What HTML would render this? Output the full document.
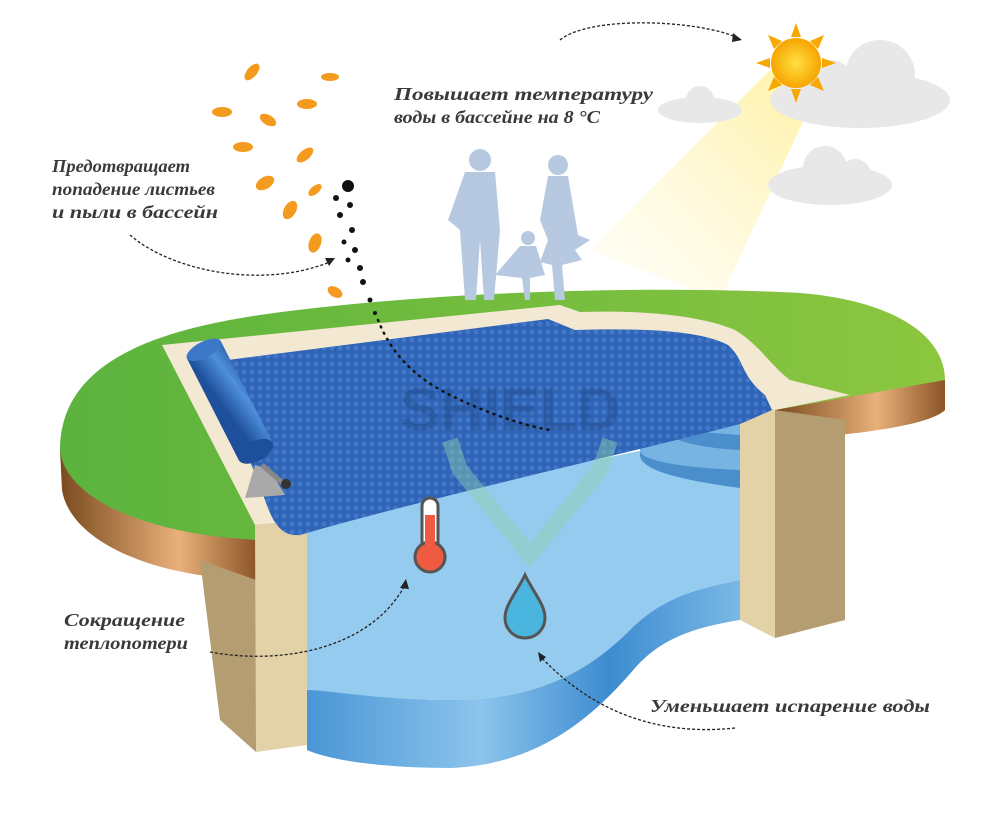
<!DOCTYPE html>
<html><head><meta charset="utf-8"><style>
html,body{margin:0;padding:0;background:#fff;width:1000px;height:823px;overflow:hidden}
svg{display:block}
.t{font-family:"Liberation Serif",serif;font-style:italic;font-weight:bold;fill:#3a3a3a;font-size:18px}
</style></head><body>
<svg width="1000" height="823" viewBox="0 0 1000 823" xmlns="http://www.w3.org/2000/svg">
<defs>
<pattern id="dots" width="8" height="8" patternUnits="userSpaceOnUse"><circle cx="4" cy="4" r="2.6" fill="#4a7fd0"/></pattern>
<linearGradient id="band" x1="0" x2="1"><stop offset="0" stop-color="#4a96d6"/><stop offset="0.4" stop-color="#8cc4ec"/><stop offset="0.7" stop-color="#3d8cd0"/><stop offset="1" stop-color="#7ab8e6"/></linearGradient>
<linearGradient id="soil" x1="0" x2="1"><stop offset="0" stop-color="#7a4a1e"/><stop offset="0.6" stop-color="#e9b07a"/><stop offset="1" stop-color="#8a5426"/></linearGradient>
<linearGradient id="roll" x1="0" x2="1" y1="0" y2="-0.5"><stop offset="0" stop-color="#1d4f9a"/><stop offset="0.5" stop-color="#4f8fdc"/><stop offset="1" stop-color="#1d4f9a"/></linearGradient>
<linearGradient id="beam" x1="1" y1="0" x2="0" y2="1"><stop offset="0" stop-color="#fff1a0"/><stop offset="1" stop-color="#fffbe6" stop-opacity="0.3"/></linearGradient>
<radialGradient id="sun"><stop offset="0" stop-color="#ffe040"/><stop offset="1" stop-color="#f7a400"/></radialGradient>
<linearGradient id="grass" x1="0" x2="1"><stop offset="0" stop-color="#5bb33e"/><stop offset="1" stop-color="#8cc63f"/></linearGradient>
</defs>
<polygon points="770,70 820,85 720,300 590,250" fill="url(#beam)"/>
<g fill="#e8e8e8">
<ellipse cx="860" cy="100" rx="90" ry="28"/><circle cx="880" cy="75" r="35"/><circle cx="830" cy="85" r="25"/>
<ellipse cx="700" cy="110" rx="42" ry="13"/><circle cx="700" cy="100" r="14"/>
<ellipse cx="830" cy="185" rx="62" ry="20"/><circle cx="825" cy="168" r="22"/><circle cx="855" cy="175" r="16"/>
</g>
<g transform="translate(796,63)">
<g fill="#f7a800">
<polygon points="0,-40 5,-26 -5,-26"/><polygon points="0,40 5,26 -5,26"/><polygon points="-40,0 -26,5 -26,-5"/><polygon points="40,0 26,5 26,-5"/>
<polygon points="28,-28 22,-14 14,-22" /><polygon points="-28,28 -22,14 -14,22"/><polygon points="-28,-28 -14,-22 -22,-14"/><polygon points="28,28 14,22 22,14"/>
</g>
<circle r="25" fill="url(#sun)"/></g>
<path d="M60,450 C60,360 160,330 260,315 C400,295 600,285 780,292 C880,295 945,330 945,380 L945,395 L780,410 L260,540 C160,540 60,520 60,450Z" fill="url(#grass)"/>
<path d="M775,410 L945,380 L945,410 C930,425 860,435 775,440Z" fill="url(#soil)"/>
<path d="M60,450 C65,500 150,535 258,540 L258,580 C150,578 70,540 62,490Z" fill="url(#soil)"/>
<polygon points="200,560 256,580 256,752 220,720" fill="#b59d72"/>
<polygon points="255,525 307,520 307,745 256,752" fill="#e3d1a8"/>
<polygon points="775,410 845,420 845,620 775,638" fill="#b59d72"/>
<polygon points="740,398 775,405 775,638 740,620" fill="#e3d1a8"/>
<path d="M307,520 L740,430 L740,580 C690,590 660,600 630,630 C590,670 540,700 450,700 C380,700 330,690 307,690Z" fill="#95cbef"/>
<path d="M307,690 C330,690 380,700 450,700 C540,700 590,670 630,630 C660,600 690,590 740,580 L740,620 C690,628 660,640 635,668 C595,715 540,765 450,768 C380,768 330,760 307,750Z" fill="url(#band)"/>
<path d="M640,455 C640,430 680,415 740,412 L740,488 C680,480 640,470 640,455Z" fill="#4a8fcc"/>
<path d="M640,450 C640,430 680,418 740,415 L740,470 C690,468 640,462 640,450Z" fill="#78b4e2"/>
<path d="M662,425 C662,410 700,400 740,398 L740,450 C700,448 662,440 662,425Z" fill="#4a8fcc"/>
<path d="M662,420 C662,408 700,400 740,398 L740,435 C700,432 662,430 662,420Z" fill="#78b4e2"/>
<path d="M162,345 L560,305 L580,312 C640,310 700,315 735,330 C760,345 770,365 790,380 L850,395 L775,410 L740,398 L300,500 L307,520 L255,525Z" fill="#f3e8d2"/>
<path d="M212,362 L548,319 L575,330 C640,328 700,330 728,345 C745,360 740,375 765,395 L772,410 L740,424 C600,460 420,500 300,535 C280,537 272,520 265,500Z" fill="#2f63b6"/>
<path d="M212,362 L548,319 L575,330 C640,328 700,330 728,345 C745,360 740,375 765,395 L772,410 L740,424 C600,460 420,500 300,535 C280,537 272,520 265,500Z" fill="url(#dots)" opacity="0.7"/>
<text x="400" y="430" font-family="Liberation Sans,sans-serif" font-weight="bold" font-size="60" fill="#1a3a6a" opacity="0.25">SHIELD</text>
<path d="M450,440 L460,470 L530,555 L600,470 L610,440" fill="none" stroke="#8fd0b0" stroke-width="16" opacity="0.45"/>
<g transform="translate(232,405) rotate(-27)">
<rect x="-19" y="-62" width="38" height="114" fill="url(#roll)"/>
<ellipse cx="0" cy="-62" rx="19" ry="8" fill="#3d78c8"/>
<ellipse cx="0" cy="52" rx="19" ry="10" fill="#1d4f9a"/></g>
<polygon points="255,465 270,470 285,495 245,498" fill="#a9a9a9"/>
<line x1="262" y1="465" x2="285" y2="485" stroke="#888" stroke-width="5"/>
<circle cx="286" cy="484" r="5" fill="#333"/>
<g fill="#b7c9e0">
<circle cx="480" cy="160" r="11"/><path d="M465,172 L495,172 L500,230 L494,300 L484,300 L480,240 L476,300 L465,300 L460,230 L448,220 Z"/>
<circle cx="558" cy="165" r="10"/><path d="M548,176 L568,176 L578,235 L590,240 L575,250 L582,260 L562,265 L565,300 L555,300 L552,265 L540,262 L548,240 L540,220 Z"/>
<circle cx="528" cy="238" r="7"/><path d="M520,246 L536,246 L545,275 L530,278 L530,300 L525,300 L522,278 L495,275 Z"/>
</g>
<g fill="#f39a1f">
<ellipse cx="252" cy="72" rx="10" ry="5" transform="rotate(-50 252 72)"/><ellipse cx="330" cy="77" rx="9" ry="4"/>
<ellipse cx="222" cy="112" rx="10" ry="5"/><ellipse cx="268" cy="120" rx="9" ry="5" transform="rotate(30 268 120)"/>
<ellipse cx="307" cy="104" rx="10" ry="5"/><ellipse cx="243" cy="147" rx="10" ry="5"/>
<ellipse cx="305" cy="155" rx="10" ry="5" transform="rotate(-40 305 155)"/><ellipse cx="265" cy="183" rx="10" ry="6" transform="rotate(-30 265 183)"/>
<ellipse cx="290" cy="210" rx="10" ry="6" transform="rotate(-60 290 210)"/><ellipse cx="315" cy="190" rx="8" ry="4" transform="rotate(-40 315 190)"/>
<ellipse cx="315" cy="243" rx="10" ry="6" transform="rotate(-70 315 243)"/><ellipse cx="335" cy="292" rx="8" ry="5" transform="rotate(30 335 292)"/>
</g>
<g fill="#111">
<circle cx="348" cy="186" r="6"/><circle cx="336" cy="198" r="3"/><circle cx="350" cy="205" r="3"/><circle cx="340" cy="215" r="3"/>
<circle cx="352" cy="230" r="3"/><circle cx="344" cy="242" r="2.5"/><circle cx="355" cy="250" r="3"/><circle cx="348" cy="260" r="2.5"/>
<circle cx="360" cy="268" r="3"/><circle cx="363" cy="282" r="3"/><circle cx="370" cy="300" r="2.5"/><circle cx="375" cy="313" r="2"/>
</g>
<path d="M378,320 C390,350 410,375 450,395 C480,410 520,425 550,430" fill="none" stroke="#111" stroke-width="2.5" stroke-dasharray="1,6" stroke-linecap="round"/>
<rect x="422" y="498" width="16" height="55" rx="8" fill="#fff" stroke="#555" stroke-width="3"/>
<circle cx="430" cy="557" r="15" fill="#f05a40" stroke="#555" stroke-width="3"/>
<rect x="425" y="515" width="10" height="45" fill="#f05a40"/>
<path d="M525,575 C515,595 505,605 505,618 A20,20 0 0 0 545,618 C545,605 535,595 525,575Z" fill="#4ab6e0" stroke="#555" stroke-width="3"/>
<g fill="none" stroke="#222" stroke-width="1.3" stroke-dasharray="3,2">
<path d="M130,235 C170,270 260,290 330,262"/>
<path d="M560,40 C590,15 700,20 738,38"/>
<path d="M210,652 C280,665 370,650 405,585"/>
<path d="M735,728 C670,735 600,720 540,656"/>
</g>
<g fill="#222">
<polygon points="335,258 325,258 329,266"/><polygon points="742,40 733,33 732,42"/>
<polygon points="406,579 400,588 409,589"/><polygon points="538,652 540,662 546,657"/>
</g>
<text class="t" x="52" y="172" textLength="138" lengthAdjust="spacingAndGlyphs">Предотвращает</text>
<text class="t" x="52" y="195" textLength="163" lengthAdjust="spacingAndGlyphs">попадение листьев</text>
<text class="t" x="52" y="218" textLength="166" lengthAdjust="spacingAndGlyphs">и пыли в бассейн</text>
<text class="t" x="394" y="100" textLength="259" lengthAdjust="spacingAndGlyphs">Повышает температуру</text>
<text class="t" x="394" y="123" textLength="206" lengthAdjust="spacingAndGlyphs">воды в бассейне на 8 °С</text>
<text class="t" x="64" y="626" textLength="121" lengthAdjust="spacingAndGlyphs">Сокращение</text>
<text class="t" x="64" y="649" textLength="124" lengthAdjust="spacingAndGlyphs">теплопотери</text>
<text class="t" x="650" y="712" textLength="280" lengthAdjust="spacingAndGlyphs">Уменьшает испарение воды</text>
</svg>
</body></html>
